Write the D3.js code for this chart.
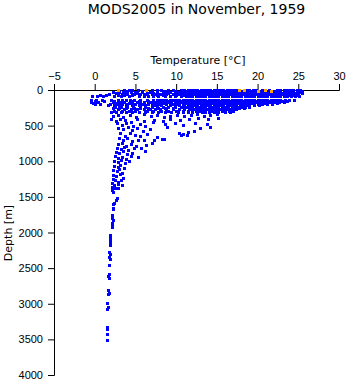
<!DOCTYPE html>
<html>
<head>
<meta charset="utf-8">
<script src="https://cdn.jsdelivr.net/npm/d3@7"></script>
<style>
  body { margin: 0; background: #fff; }
  svg { display: block; font-family: "DejaVu Sans", sans-serif; }
</style>
</head>
<body>
<svg id="chart" width="348" height="384"></svg>
<script>
// tick values
const xTicks = [-5, 0, 5, 10, 15, 20, 25, 30];
const yTicks = [0, 500, 1000, 1500, 2000, 2500, 3000, 3500, 4000];

// upper-ocean standard levels [m] and the temperatures [°C] seen on each
const levelDepths = [0, 15, 30, 45, 60, 75, 90, 140, 155, 170, 185, 200, 215, 235, 250, 270, 290, 310];
const levelTemps = [
  [3.6, 4.2, 4.6, 5.3, 7.0, 7.6, 8.2, 9.0, 9.6, 10.6, 11.0, 11.4, 11.8, 12.2, 12.6, 13.0, 13.4, 13.8, 14.2, 14.6, 15.0, 15.4, 15.8, 16.2, 16.6, 17.0, 17.3, 18.6, 19.0, 19.4, 19.8, 20.5, 21.4, 22.4, 22.8, 23.2, 23.6, 24.0, 24.4, 24.8, 25.2],
  [3.0, 4.0, 5.8, 8.6, 9.8, 11.2, 11.6, 12.0, 12.4, 12.8, 13.2, 13.6, 14.0, 14.4, 14.8, 15.2, 15.6, 16.0, 16.4, 16.8, 17.2, 17.6, 18.0, 18.4, 18.8, 19.2, 19.6, 20.0, 20.4, 20.8, 21.2, 21.6, 22.0, 22.4, 22.8, 23.2, 23.6, 24.0, 24.4, 24.8, 25.2, 25.5],
  [2.2, 3.0, 3.5, 4.4, 5.0, 5.8, 6.8, 7.7, 8.4, 9.3, 10.2, 10.8, 11.2, 11.6, 12.0, 12.4, 12.8, 13.2, 13.6, 14.0, 14.4, 14.8, 15.2, 15.6, 16.0, 16.4, 16.8, 17.2, 17.6, 18.0, 18.4, 18.8, 19.2, 19.6, 20.0, 20.4, 20.8, 21.2, 21.6, 22.0, 22.4, 22.8, 23.2, 23.6, 24.0, 24.4, 24.8, 25.3],
  [2.6, 3.8, 5.2, 6.4, 7.2, 9.0, 10.0, 10.6, 11.0, 11.4, 11.8, 12.2, 12.6, 13.0, 13.4, 13.8, 14.2, 14.6, 15.0, 15.4, 15.8, 16.2, 16.6, 17.0, 17.4, 17.8, 18.2, 18.6, 19.0, 19.4, 19.8, 20.2, 20.6, 21.0, 21.4, 21.8, 22.2, 22.6, 23.0, 23.4, 23.8, 24.2, 24.6, 25.0, 25.4],
  [1.8, 2.8, 3.4, 4.0, 4.8, 5.6, 6.2, 7.0, 7.4, 8.0, 8.8, 9.6, 10.4, 11.0, 11.4, 11.8, 12.2, 12.6, 13.0, 13.4, 13.8, 14.2, 14.6, 15.0, 15.4, 15.8, 16.2, 16.6, 17.0, 17.4, 17.8, 18.2, 18.6, 19.0, 19.4, 19.8, 20.2, 20.6, 21.0, 21.4, 21.8, 22.2, 22.6, 23.0, 23.4, 23.8, 24.2, 24.6, 25.0],
  [0.6, 1.4, 2.8, 3.6, 4.6, 6.0, 7.6, 8.4, 10.0, 10.8, 11.2, 11.6, 12.0, 12.4, 12.8, 13.2, 13.6, 14.0, 14.4, 14.8, 15.2, 15.6, 16.0, 16.4, 16.8, 17.2, 17.6, 18.0, 18.4, 18.8, 19.2, 19.6, 20.0, 20.4, 20.8, 21.2, 21.6, 22.0, 22.4, 22.8, 23.2, 23.6, 24.0, 24.4, 24.8],
  [-0.3, 0.3, 1.0, 2.4, 3.2, 4.2, 5.4, 6.0, 6.6, 7.2, 7.8, 8.6, 9.2, 9.8, 10.6, 11.2, 11.6, 12.0, 12.4, 12.8, 13.2, 13.6, 14.0, 14.4, 14.8, 15.2, 15.6, 16.0, 16.4, 16.8, 17.2, 17.6, 18.0, 18.4, 18.8, 19.2, 19.6, 20.0, 20.4, 20.8, 21.2, 21.6, 22.0, 22.4, 22.8, 23.2, 23.6, 24.1, 24.6, 25.1],
  [-0.4, 0.2, 0.9, 2.0, 2.8, 3.3, 3.8, 4.3, 4.8, 5.6, 6.4, 7.2, 7.6, 8.0, 8.4, 8.8, 9.2, 9.6, 10.0, 10.4, 10.8, 11.2, 11.6, 12.0, 12.4, 12.8, 13.2, 13.6, 14.0, 14.4, 14.8, 15.2, 15.6, 16.0, 16.4, 16.8, 17.2, 17.6, 18.0, 18.4, 18.8, 19.2, 19.6, 20.0, 20.4, 20.8, 21.2, 21.6, 22.0, 22.4, 22.8, 23.4, 23.9, 24.5],
  [0.0, 1.2, 2.4, 3.4, 4.4, 5.4, 6.6, 7.8, 8.6, 9.0, 9.4, 9.8, 10.2, 10.6, 11.0, 11.4, 11.8, 12.2, 12.6, 13.0, 13.4, 13.8, 14.2, 14.6, 15.0, 15.4, 15.8, 16.2, 16.6, 17.0, 17.4, 17.8, 18.2, 18.6, 19.0, 19.4, 19.8, 20.2, 20.6, 21.0, 21.4, 21.8, 22.2, 22.6, 23.0, 23.6],
  [-0.5, 0.4, 2.2, 3.0, 3.6, 4.6, 5.2, 6.0, 6.8, 7.4, 8.2, 8.6, 9.0, 9.4, 10.2, 10.6, 11.0, 11.4, 11.8, 12.2, 12.6, 13.0, 13.4, 13.8, 14.2, 14.6, 15.0, 15.4, 15.8, 16.2, 16.6, 17.0, 17.4, 17.8, 18.2, 18.6, 19.0, 19.4, 19.8, 20.2, 20.6, 21.0, 21.5, 22.0, 22.6, 23.2],
  [-0.2, 2.6, 3.4, 4.2, 5.6, 7.2, 8.4, 9.8, 10.4, 10.8, 11.2, 11.6, 12.0, 12.4, 12.8, 13.2, 13.6, 14.0, 14.4, 14.8, 15.2, 15.6, 16.0, 16.4, 16.8, 17.2, 17.6, 18.0, 18.4, 18.8, 19.2, 19.6, 20.0, 20.4, 20.8, 21.2, 21.8, 22.4],
  [0.0, 0.7, 1.9, 2.6, 3.4, 4.0, 4.9, 5.8, 6.6, 7.0, 7.8, 8.8, 9.6, 10.0, 10.8, 11.4, 11.8, 12.2, 12.6, 13.0, 13.4, 13.8, 14.2, 14.6, 15.0, 15.4, 15.8, 16.2, 16.6, 17.0, 17.4, 17.8, 18.2, 18.6, 19.0, 19.5, 20.0, 20.6, 21.2, 21.8],
  [1.6, 2.4, 3.0, 3.8, 4.6, 5.4, 6.2, 7.4, 8.2, 9.2, 10.4, 11.0, 11.4, 11.8, 12.2, 12.6, 13.0, 13.4, 13.8, 14.2, 14.6, 15.0, 15.4, 15.8, 16.2, 16.6, 17.0, 17.4, 17.8, 18.2, 18.6, 19.0, 19.6, 20.2],
  [2.5, 3.2, 4.0, 4.7, 5.5, 6.2, 7.0, 7.7, 8.4, 9.0, 9.8, 10.6, 11.2, 11.8, 12.4, 12.8, 13.2, 13.6, 14.0, 14.4, 14.8, 15.2, 15.6, 16.0, 16.4, 16.8, 17.2, 17.6, 18.0, 18.5, 19.0],
  [2.2, 3.0, 3.8, 4.8, 5.6, 6.6, 7.8, 8.6, 9.6, 11.0, 11.6, 12.0, 12.4, 12.8, 13.2, 13.6, 14.0, 14.4, 14.8, 15.2, 15.6, 16.0, 16.4, 16.8, 17.2, 17.7, 18.3],
  [2.9, 3.6, 4.4, 5.2, 6.0, 6.8, 7.4, 8.0, 8.8, 9.6, 10.4, 11.0, 11.6, 12.2, 12.6, 13.0, 13.4, 13.8, 14.2, 14.6, 15.0, 15.4, 15.8, 16.2, 16.7, 17.3],
  [2.4, 3.4, 4.2, 5.0, 6.4, 7.2, 8.2, 9.0, 10.0, 10.8, 11.4, 12.0, 12.4, 12.8, 13.2, 13.6, 14.0, 14.4, 14.8, 15.2, 15.6, 16.0, 16.5, 17.0],
  [2.0, 2.6, 3.2, 3.8, 4.6, 5.4, 6.2, 7.0, 7.8, 8.6, 9.4, 10.2, 10.8, 11.4, 12.0, 12.6, 13.2, 13.6, 14.0, 14.6, 15.2, 16.0, 16.6]
];

// thermocline and intermediate water, [temperature, depth]
const midObs = [
  [2.2, 360], [2.9, 345], [3.5, 380], [4.3, 355], [5.1, 372], [6.0, 340], [6.9, 365], [7.6, 350], [8.5, 385],
  [9.3, 360], [10.1, 345], [11.0, 370], [11.8, 355], [12.5, 340], [13.4, 362], [14.2, 348], [15.0, 338],
  [2.0, 410], [2.6, 430], [3.1, 400], [3.7, 420], [4.5, 445], [5.2, 405], [6.1, 430], [7.3, 415],
  [8.4, 440], [9.2, 400], [10.5, 425], [11.6, 410], [12.7, 395], [13.9, 405], [15.2, 392],
  [2.7, 470], [3.3, 490], [3.9, 460], [4.7, 500], [5.5, 475], [6.2, 510], [7.1, 455], [8.6, 480],
  [9.8, 470], [10.9, 495], [12.3, 465], [13.8, 478],
  [2.9, 530], [3.5, 545], [4.1, 520], [4.6, 560], [5.2, 535], [5.9, 580], [6.8, 550], [8.9, 525],
  [10.3, 600], [10.8, 615], [11.4, 590], [12.9, 540], [14.1, 520],
  [3.1, 610], [3.7, 640], [4.3, 600], [4.9, 625], [5.5, 650], [6.4, 615], [7.6, 660], [8.3, 690],
  [10.6, 630], [11.3, 625], [12.2, 580],
  [3.0, 680], [3.5, 700], [4.0, 670], [4.6, 720], [5.3, 695], [6.1, 705], [7.3, 700], [8.5, 685],
  [2.8, 760], [3.3, 740], [3.8, 780], [4.4, 755], [5.1, 790], [6.3, 765], [7.0, 745],
  [2.7, 810], [3.2, 830], [3.6, 800], [4.1, 845], [4.8, 820], [5.7, 810],
  [2.6, 870], [3.0, 890], [3.5, 860], [4.0, 905], [4.6, 880], [6.2, 855],
  [2.5, 930], [2.9, 950], [3.3, 940], [3.8, 965], [4.4, 920], [5.3, 935],
  [2.4, 990], [2.8, 1010], [3.2, 985], [3.7, 1030], [4.2, 1000],
  [2.4, 1060], [2.8, 1080], [3.1, 1050], [3.6, 1090],
  [2.3, 1120], [2.7, 1140], [3.0, 1110], [3.4, 1160],
  [2.25, 1190], [2.6, 1210], [3.1, 1180], [3.5, 1230],
  [2.2, 1250], [2.5, 1270], [2.9, 1290], [3.2, 1260],
  [2.1, 1310], [2.4, 1330], [2.8, 1320], [3.3, 1340],
  [2.1, 1360], [2.5, 1380], [2.8, 1370]
];

// deep casts, [temperature, depth]
const deepObs = [
  [2.1, 1400], [2.2, 1430], [2.7, 1520], [2.6, 1540], [2.4, 1580], [2.3, 1600],
  [2.2, 1650], [2.2, 1670], [2.1, 1760], [2.1, 1790], [2.2, 1820], [2.1, 1860],
  [2.15, 1890], [2.1, 1920], [1.9, 2040], [1.85, 2080], [1.9, 2100], [1.85, 2140],
  [1.9, 2170], [1.8, 2270], [1.85, 2300], [1.8, 2340], [1.85, 2370], [1.75, 2460],
  [1.7, 2580], [1.65, 2610], [1.7, 2640], [1.65, 2800], [1.7, 2850], [1.65, 2870],
  [1.55, 2990], [1.6, 3040], [1.55, 3070], [1.5, 3320], [1.55, 3350], [1.5, 3420],
  [1.5, 3510]
];

// flagged surface values (orange)
const flagTemps = [2.8, 6.3, 17.7, 18.3, 20.1, 20.9, 21.6];
const flagDepths = [0, 5, 0, 5, 10, 5, 10];

const svg = d3.select("#chart");

const x = d3.scaleLinear().domain([-5, 30]).range([54, 339]);
const y = d3.scaleLinear().domain([0, 4000]).range([90, 375]);

// title
svg.append("text")
  .attr("x", 196.5).attr("y", 14)
  .attr("text-anchor", "middle")
  .style("font-size", "14px")
  .text("MODS2005 in November, 1959");

// axes
svg.append("g")
  .attr("transform", "translate(0,90)")
  .call(d3.axisTop(x).tickValues(xTicks).tickSize(6).tickPadding(4));
svg.append("g")
  .attr("transform", "translate(54,0)")
  .call(d3.axisLeft(y).tickValues(yTicks).tickFormat(d3.format("d")).tickSize(6).tickPadding(5));

svg.selectAll(".tick text").style("font-size", "11px").attr("fill", "#000");
svg.selectAll(".domain, .tick line").attr("stroke", "#000");

svg.append("text")
  .attr("x", 198).attr("y", 64)
  .attr("text-anchor", "middle")
  .style("font-size", "11px")
  .text("Temperature [°C]");

svg.append("text")
  .attr("transform", "translate(12,233) rotate(-90)")
  .attr("text-anchor", "middle")
  .style("font-size", "11px")
  .text("Depth [m]");

// flatten everything to [temp, depth] points
const pts = [];
levelDepths.forEach(function(d, i) {
  levelTemps[i].forEach(function(t) { pts.push([t, d]); });
});
midObs.forEach(function(p) { pts.push(p); });
deepObs.forEach(function(p) { pts.push(p); });

svg.append("g")
  .selectAll("rect")
  .data(pts)
  .enter()
  .append("rect")
    .attr("x", function(d) { return Math.round(x(d[0])) - 1; })
    .attr("y", function(d) { return Math.round(y(d[1])) - 1; })
    .attr("width", 3)
    .attr("height", 3)
    .attr("fill", "#0000ff")
    .attr("shape-rendering", "crispEdges");

svg.append("g")
  .selectAll("rect")
  .data(flagTemps)
  .enter()
  .append("rect")
    .attr("x", function(d) { return Math.round(x(d)) - 1; })
    .attr("y", function(d, i) { return Math.round(y(flagDepths[i])) - 1; })
    .attr("width", 3)
    .attr("height", 3)
    .attr("fill", "#ffa500")
    .attr("shape-rendering", "crispEdges");
</script>
</body>
</html>
